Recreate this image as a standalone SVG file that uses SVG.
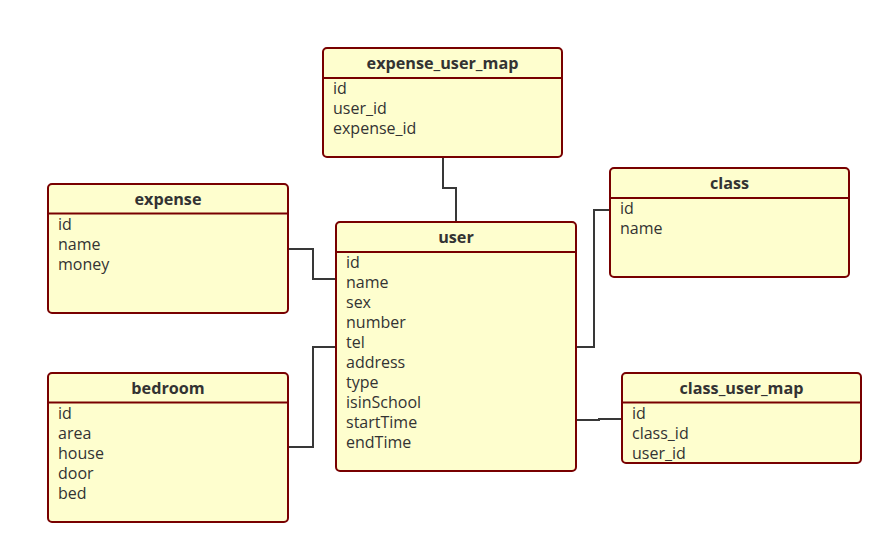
<svg xmlns="http://www.w3.org/2000/svg" width="894" height="555" viewBox="0 0 894 555">
<style>
.box{fill:#FEFECE;stroke:#780000;stroke-width:2}
.div{stroke:#780000;stroke-width:2}
.hd{font-family:"Open Sans","Noto Sans",sans-serif;font-size:16.2px;font-weight:bold;fill:#333;text-anchor:middle}
.f{font-family:"Open Sans","Noto Sans",sans-serif;font-size:16px;fill:#333}
.c{fill:none;stroke:#383838;stroke-width:2}
</style>
<rect width="894" height="555" fill="#fff"/>
<g id="connectors">
<polyline class="c" points="443,157 443,188 456,188 456,222"/>
<polyline class="c" points="288,249 313,249 313,279 336,279"/>
<polyline class="c" points="288,447 313,447 313,347 336,347"/>
<polyline class="c" points="576,347 594,347 594,210 610,210"/>
<polyline class="c" points="576,420 599,420 599,419 622,419"/>
</g>
<g id="expense_user_map">
<rect class="box" x="323" y="48" width="239" height="109" rx="4"/>
<line class="div" x1="323" y1="78" x2="562" y2="78"/>
<text class="hd" x="442.5" y="69">expense_user_map</text>
<text class="f" x="333" y="94">id</text>
<text class="f" x="333" y="114">user_id</text>
<text class="f" x="333" y="134">expense_id</text>
</g>
<g id="expense">
<rect class="box" x="48" y="184" width="240" height="129" rx="4"/>
<line class="div" x1="48" y1="213.5" x2="288" y2="213.5"/>
<text class="hd" x="168" y="205">expense</text>
<text class="f" x="58" y="230">id</text>
<text class="f" x="58" y="250">name</text>
<text class="f" x="58" y="270">money</text>
</g>
<g id="user">
<rect class="box" x="336" y="222" width="240" height="249" rx="4"/>
<line class="div" x1="336" y1="252" x2="576" y2="252"/>
<text class="hd" x="456" y="243">user</text>
<text class="f" x="346" y="268">id</text>
<text class="f" x="346" y="288">name</text>
<text class="f" x="346" y="308">sex</text>
<text class="f" x="346" y="328">number</text>
<text class="f" x="346" y="348">tel</text>
<text class="f" x="346" y="368">address</text>
<text class="f" x="346" y="388">type</text>
<text class="f" x="346" y="408">isinSchool</text>
<text class="f" x="346" y="428">startTime</text>
<text class="f" x="346" y="448">endTime</text>
</g>
<g id="class">
<rect class="box" x="610" y="168" width="239" height="109" rx="4"/>
<line class="div" x1="610" y1="198" x2="849" y2="198"/>
<text class="hd" x="729.5" y="189">class</text>
<text class="f" x="620" y="214">id</text>
<text class="f" x="620" y="234">name</text>
</g>
<g id="bedroom">
<rect class="box" x="48" y="373" width="240" height="149" rx="4"/>
<line class="div" x1="48" y1="402.5" x2="288" y2="402.5"/>
<text class="hd" x="168" y="394">bedroom</text>
<text class="f" x="58" y="419">id</text>
<text class="f" x="58" y="439">area</text>
<text class="f" x="58" y="459">house</text>
<text class="f" x="58" y="479">door</text>
<text class="f" x="58" y="499">bed</text>
</g>
<g id="class_user_map">
<rect class="box" x="622" y="373" width="239" height="90" rx="4"/>
<line class="div" x1="622" y1="402.5" x2="861" y2="402.5"/>
<text class="hd" x="741.5" y="394">class_user_map</text>
<text class="f" x="632" y="419">id</text>
<text class="f" x="632" y="439">class_id</text>
<text class="f" x="632" y="459">user_id</text>
</g>
</svg>
